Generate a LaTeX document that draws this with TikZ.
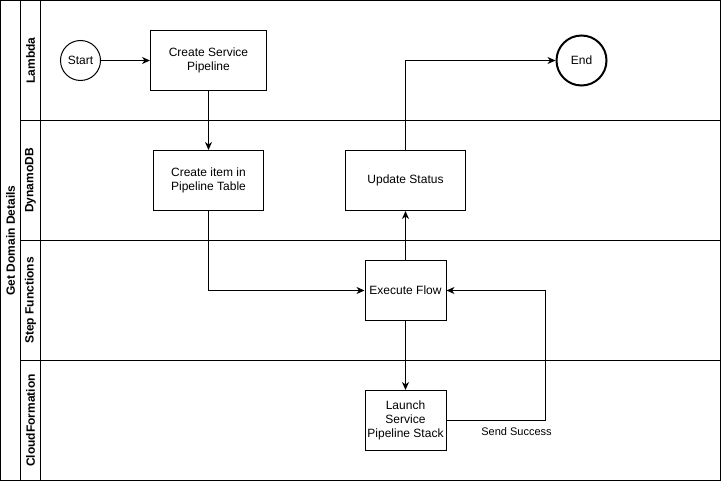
\documentclass[tikz,border=0pt]{standalone}
\usepackage{fontspec}
\setmainfont{Liberation Sans}
\usetikzlibrary{arrows.meta}

\begin{document}
\begin{tikzpicture}[x=1pt, y=-1pt, line width=1pt,
		font=\fontsize{12}{14}\selectfont,
		>={Stealth[length=8pt,width=7pt,inset=2.5pt]},
		main/.style={draw,rectangle,align=center,inner sep=0pt,minimum height=60pt},
		term/.style={draw,circle,inner sep=0pt,minimum size=40pt},
		lane/.style={font=\fontsize{12}{14}\selectfont\bfseries,rotate=90}]
		\useasboundingbox (0,0) rectangle (721,481);

		% pool and lanes
		\draw (0.5,0.5) rectangle (720.5,480.5);
		\draw (20.5,0.5) -- (20.5,480.5);
		\draw (40.5,0.5) -- (40.5,480.5);
		\draw (20.5,120.5) -- (720.5,120.5);
		\draw (20.5,240.5) -- (720.5,240.5);
		\draw (20.5,360.5) -- (720.5,360.5);
		\node[lane] (pool) at (10.5,240.5) {Get Domain Details};
		\node[lane] (l1) at (30.5,60.5) {Lambda};
		\node[lane] (l2) at (30.5,180.5) {DynamoDB};
		\node[lane] (l3) at (30.5,300.5) {Step Functions};
		\node[lane] (l4) at (30.5,420.5) {CloudFormation};

		\node[term] (start) at (80.5,60.5) {Start};
		\node[main, minimum width=116pt] (create) at (208.5,60.5) {Create Service\\Pipeline};
		\node[main, minimum width=110pt] (item) at (208.5,180.5) {Create item in\\Pipeline Table};
		\node[main, minimum width=120pt] (update) at (405.5,180.5) {Update Status};
		\node[term, minimum size=50pt, line width=2pt] (end) at (581.5,60.5) {End};
		\node[main, minimum width=81pt] (exec) at (405.5,290.5) {Execute Flow};
		\node[main, minimum width=81pt] (launch) at (405.5,420.5) {Launch\\Service\\Pipeline Stack};
		\coordinate (ret) at (545.5,290.5);
		\node[font=\fontsize{11}{13}\selectfont] (lbl) at (516.5,431.5) {Send Success};

		\draw[->] (start) -- (create);
		\draw[->] (create) -- (item);
		\draw[->] (item.south) |- (exec.west);
		\draw[->] (exec) -- (launch);
		\draw[->] (launch.east) -| (ret) -- (exec.east);
		\draw[->] (exec) -- (update);
		\draw[->] (update.north) |- (end.west);

	\end{tikzpicture}
\end{document}
